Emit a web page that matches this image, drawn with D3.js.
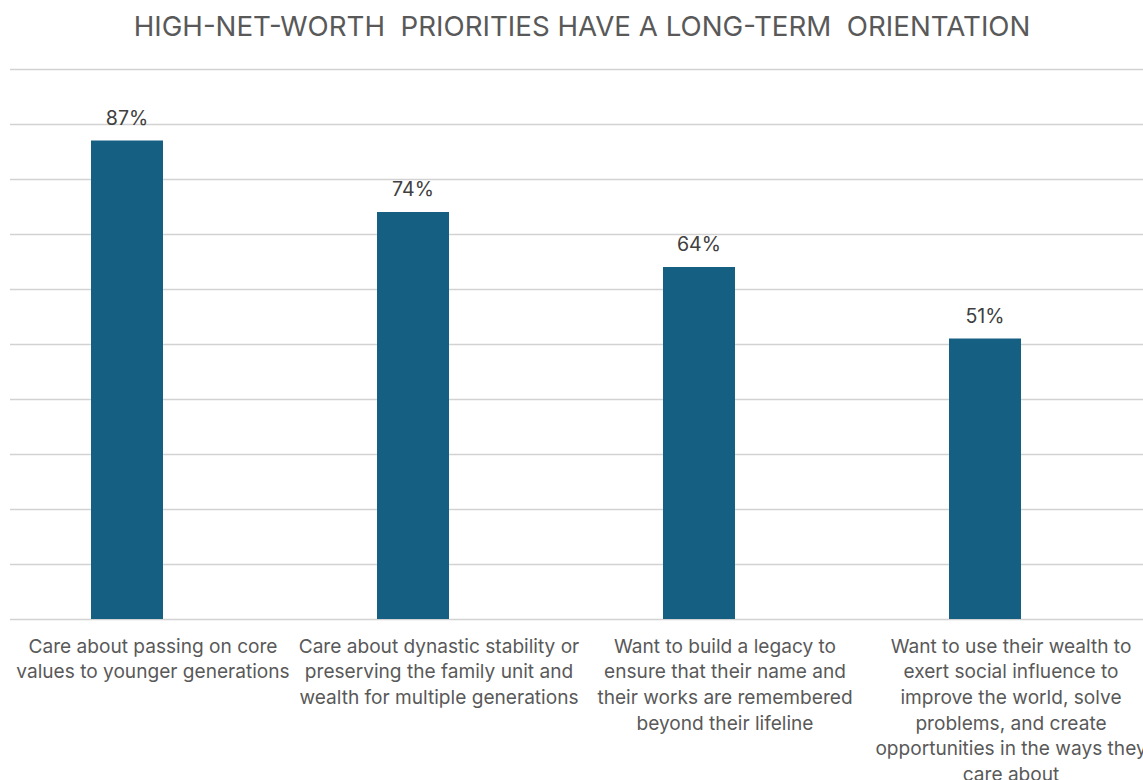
<!DOCTYPE html><html><head><meta charset="utf-8"><script src="https://cdn.jsdelivr.net/npm/d3@7"></script>
<style>body{margin:0;background:#fff}svg{display:block}</style></head><body><svg id="chart" width="1143" height="780"></svg><script>
// ---- data ----
const title = "HIGH-NET-WORTH  PRIORITIES HAVE A LONG-TERM  ORIENTATION";
const categories = ["c1", "c2", "c3", "c4"];
const categoryLabels = [
  ["Care about passing on core", "values to younger generations"],
  ["Care about dynastic stability or", "preserving the family unit and", "wealth for multiple generations"],
  ["Want to build a legacy to", "ensure that their name and", "their works are remembered", "beyond their lifeline"],
  ["Want to use their wealth to", "exert social influence to", "improve the world, solve", "problems, and create", "opportunities in the ways they", "care about"]
];
const values = [87, 74, 64, 51];
const yTicks = [0, 10, 20, 30, 40, 50, 60, 70, 80, 90, 100];

// ---- layout ----
const svg = d3.select("#chart");
const font = "Inter, 'Open Sans', sans-serif";
const plot = {left: 10, right: 1154, top: 69, bottom: 619};
const barWidth = 72, barShift = -26;

const x = d3.scaleBand().domain(categories).range([plot.left, plot.right]).paddingInner(0).paddingOuter(0);
const y = d3.scaleLinear().domain([0, 100]).range([plot.bottom, plot.top]);

// gridlines
svg.append("g").selectAll("line").data(yTicks).join("line")
  .attr("x1", plot.left).attr("x2", plot.right)
  .attr("y1", d => Math.round(y(d)) + 0.5).attr("y2", d => Math.round(y(d)) + 0.5)
  .attr("stroke", "#d2d2d2").attr("stroke-width", 1.3);

// bars
const data = categories.map((c, i) => ({c, v: values[i], lines: categoryLabels[i]}));
const cx = d => x(d.c) + x.bandwidth() / 2;
svg.append("g").selectAll("rect").data(data).join("rect")
  .attr("x", d => cx(d) + barShift - barWidth / 2)
  .attr("width", barWidth)
  .attr("y", d => y(d.v))
  .attr("height", d => y(0) - y(d.v))
  .attr("fill", "#156082");

// data labels
svg.append("g").selectAll("text").data(data).join("text")
  .attr("x", d => cx(d) + barShift)
  .attr("y", d => y(d.v) - 16)
  .attr("text-anchor", "middle")
  .attr("font-family", font).attr("font-size", 19.6)
  .attr("fill", "#404040")
  .text(d => d.v + "%");

// category labels
const lab = svg.append("g").selectAll("text").data(data).join("text")
  .attr("text-anchor", "middle")
  .attr("font-family", font).attr("font-size", 19.1)
  .attr("fill", "#595959");
lab.selectAll("tspan").data(d => d.lines.map(l => ({l, d}))).join("tspan")
  .attr("x", t => cx(t.d))
  .attr("y", (t, i) => plot.bottom + 33.5 + i * 25.7)
  .text(t => t.l);

// title
svg.append("text")
  .attr("x", (plot.left + plot.right) / 2)
  .attr("y", 36)
  .attr("text-anchor", "middle")
  .attr("font-family", font).attr("font-size", 27.7)
  .attr("fill", "#595959")
  .style("white-space", "pre")
  .text(title);
</script></body></html>
